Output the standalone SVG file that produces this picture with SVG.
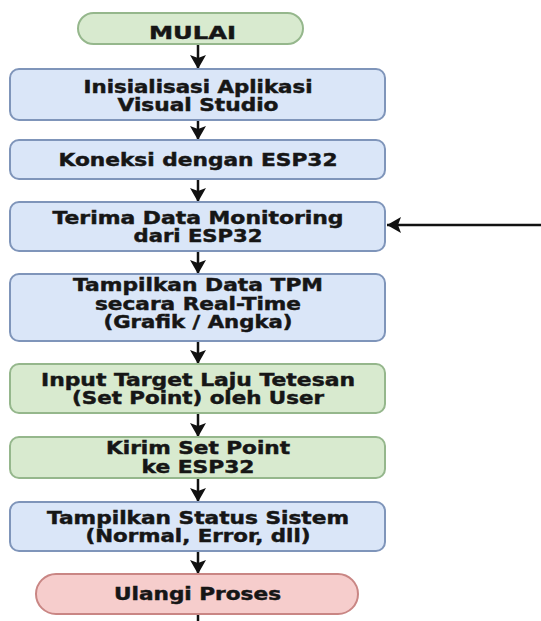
<svg xmlns="http://www.w3.org/2000/svg" width="541" height="621" viewBox="0 0 541 621">
<defs>
<marker id="ah" markerUnits="userSpaceOnUse" viewBox="0 0 14 16" refX="14" refY="8" markerWidth="14" markerHeight="16" orient="auto">
<path d="M0,0 L14,8 L0,16 L3,8 z" fill="#111"/>
</marker>
</defs>
<style>
.blue{fill:#dae6f8;stroke:#7f95ba;stroke-width:2}
.green{fill:#d8eacf;stroke:#95b78c;stroke-width:2}
.red{fill:#f6cdcc;stroke:#c98684;stroke-width:2}
text{font-family:"DejaVu Sans","Liberation Sans",sans-serif;font-weight:bold;font-size:17px;fill:#161616;stroke:#161616;stroke-width:0.45;text-anchor:middle}
.c{stroke:#111;stroke-width:2.5;fill:none;marker-end:url(#ah)}
</style>
<rect width="541" height="621" fill="#ffffff"/>
<g id="connectors">
<line class="c" x1="198" y1="44" x2="198" y2="69"/>
<line class="c" x1="198" y1="120" x2="198" y2="140"/>
<line class="c" x1="198" y1="179" x2="198" y2="202"/>
<line class="c" x1="198" y1="251" x2="198" y2="274"/>
<line class="c" x1="198" y1="341" x2="198" y2="364"/>
<line class="c" x1="198" y1="413" x2="198" y2="437"/>
<line class="c" x1="198" y1="478" x2="198" y2="502"/>
<line class="c" x1="198" y1="551" x2="198" y2="574"/>
<line x1="198" y1="614" x2="198" y2="621" stroke="#111" stroke-width="2.5"/>
<line class="c" x1="541" y1="225" x2="387" y2="225"/>
</g>
<g id="mulai">
<rect class="green" x="78" y="13" width="225" height="31" rx="15.5"/>
<text x="192.5" y="38.5" textLength="87" lengthAdjust="spacingAndGlyphs">MULAI</text>
</g>
<g id="init">
<rect class="blue" x="10" y="69" width="375" height="51" rx="9"/>
<text x="198" y="92.5" textLength="229" lengthAdjust="spacingAndGlyphs">Inisialisasi Aplikasi</text>
<text x="198" y="111" textLength="161" lengthAdjust="spacingAndGlyphs">Visual Studio</text>
</g>
<g id="koneksi">
<rect class="blue" x="10" y="140" width="375" height="39" rx="9"/>
<text x="198" y="166" textLength="279" lengthAdjust="spacingAndGlyphs">Koneksi dengan ESP32</text>
</g>
<g id="terima">
<rect class="blue" x="10" y="202" width="375" height="49" rx="9"/>
<text x="198" y="223.5" textLength="291" lengthAdjust="spacingAndGlyphs">Terima Data Monitoring</text>
<text x="198" y="242" textLength="129" lengthAdjust="spacingAndGlyphs">dari ESP32</text>
</g>
<g id="tampil-tpm">
<rect class="blue" x="10" y="274" width="375" height="67" rx="9"/>
<text x="198" y="291" textLength="250" lengthAdjust="spacingAndGlyphs">Tampilkan Data TPM</text>
<text x="198" y="309.5" textLength="206" lengthAdjust="spacingAndGlyphs">secara Real-Time</text>
<text x="198" y="328" textLength="189" lengthAdjust="spacingAndGlyphs">(Grafik / Angka)</text>
</g>
<g id="input">
<rect class="green" x="10" y="364" width="375" height="49" rx="9"/>
<text x="198" y="385.5" textLength="314" lengthAdjust="spacingAndGlyphs">Input Target Laju Tetesan</text>
<text x="198" y="404" textLength="252" lengthAdjust="spacingAndGlyphs">(Set Point) oleh User</text>
</g>
<g id="kirim">
<rect class="green" x="10" y="437" width="375" height="41" rx="9"/>
<text x="198" y="454" textLength="184" lengthAdjust="spacingAndGlyphs">Kirim Set Point</text>
<text x="198" y="472.5" textLength="113" lengthAdjust="spacingAndGlyphs">ke ESP32</text>
</g>
<g id="status">
<rect class="blue" x="10" y="502" width="375" height="49" rx="9"/>
<text x="198" y="523.5" textLength="302" lengthAdjust="spacingAndGlyphs">Tampilkan Status Sistem</text>
<text x="198" y="542" textLength="225" lengthAdjust="spacingAndGlyphs">(Normal, Error, dll)</text>
</g>
<g id="ulangi">
<rect class="red" x="36" y="574" width="322" height="40" rx="20"/>
<text x="197.5" y="600" textLength="167" lengthAdjust="spacingAndGlyphs">Ulangi Proses</text>
</g>
</svg>
